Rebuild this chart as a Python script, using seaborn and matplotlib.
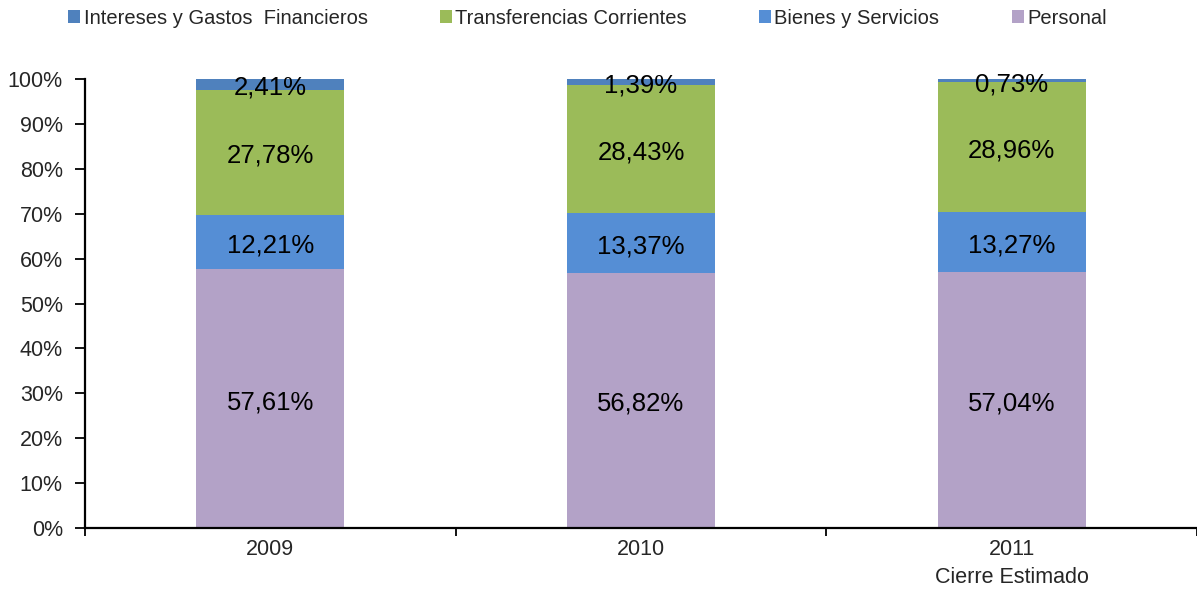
import matplotlib
matplotlib.use("Agg")
import matplotlib.pyplot as plt
import seaborn as sns
import pandas as pd
import numpy as np
from matplotlib.patches import Patch

years = ["2009", "2010", "2011\nCierre Estimado"]
personal = [57.61, 56.82, 57.04]
bienes = [12.21, 13.37, 13.27]
transferencias = [27.78, 28.43, 28.96]
intereses = [2.41, 1.39, 0.73]

series_names = ["Personal", "Bienes y Servicios", "Transferencias Corrientes", "Intereses y Gastos  Financieros"]
series_vals = [personal, bienes, transferencias, intereses]
colors = ["#B3A2C7", "#558ED5", "#9BBB59", "#4F81BD"]

sns.set_style("white")
plt.rcParams['font.family'] = ['Liberation Sans', 'DejaVu Sans']

fig = plt.figure(figsize=(11.97, 6.01), dpi=100)
ax = fig.add_axes([85/1197, 1-528/601, 1-85/1197, (528-79)/601])

bottom = np.zeros(len(years))
for name, vals, col in zip(series_names, series_vals, colors):
    df = pd.DataFrame({"year": years, "val": np.array(vals) / 100.0})
    sns.barplot(data=df, x="year", y="val", color=col, width=0.40,
                bottom=bottom, ax=ax, saturation=1, edgecolor="none", linewidth=0)
    for i, v in enumerate(vals):
        ax.annotate(f"{v:.2f}%".replace(".", ","), xy=(i, bottom[i] + v / 200.0),
                    xytext=(0, -2.5), textcoords="offset points",
                    ha="center", va="center", fontsize=18.5, color="black")
    bottom = bottom + np.array(vals) / 100.0

ax.set_xlim(-0.5, 2.5)
ax.set_ylim(0, 1.0)
ax.set_yticks(np.arange(0, 1.01, 0.1))
ax.set_yticklabels([f"{int(round(t*100))}%" for t in np.arange(0, 1.01, 0.1)], fontsize=15.5)
ax.set_xticks(range(len(years)))
ax.set_xticklabels(years, fontsize=15.5, linespacing=1.45)
ax.set_xticks([-0.5, 0.5, 1.5, 2.5], minor=True)
ax.tick_params(axis="x", which="major", bottom=False, length=0, pad=8)
ax.tick_params(axis="x", which="minor", bottom=True, length=6, width=1.3, direction="out", color="black")
ax.tick_params(axis="y", which="major", left=True, length=7, width=1.3, direction="out", color="black", pad=9)
ax.set_xlabel("")
ax.set_ylabel("")
for s in ["top", "right"]:
    ax.spines[s].set_visible(False)
for s in ["left", "bottom"]:
    ax.spines[s].set_color("black")
    ax.spines[s].set_linewidth(1.6)

handles = [Patch(facecolor=c, edgecolor="none") for c in colors[::-1]]
labels = series_names[::-1]
fig.legend(handles, labels, loc="upper left", bbox_to_anchor=(0.042, 1.016), ncol=4,
           frameon=False, fontsize=14.5, handlelength=0.6, handleheight=0.6,
           handletextpad=0.15, columnspacing=3.6)

fig.savefig("out.png", dpi=100)
